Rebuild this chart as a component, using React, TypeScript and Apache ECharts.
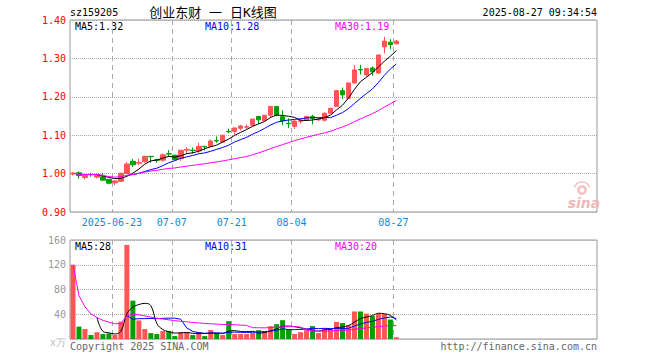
import React, { useEffect, useRef } from 'react';
import * as echarts from 'echarts';

// ---- data ----
const dates = [
  '2025-06-12', '2025-06-13', '2025-06-16', '2025-06-17', '2025-06-18', '2025-06-19', '2025-06-20',
  '2025-06-23', '2025-06-24', '2025-06-25', '2025-06-26', '2025-06-27', '2025-06-30',
  '2025-07-01', '2025-07-02', '2025-07-03', '2025-07-04', '2025-07-07', '2025-07-08', '2025-07-09',
  '2025-07-10', '2025-07-11', '2025-07-14', '2025-07-15', '2025-07-16', '2025-07-17', '2025-07-18',
  '2025-07-21', '2025-07-22', '2025-07-23', '2025-07-24', '2025-07-25', '2025-07-28', '2025-07-29',
  '2025-07-30', '2025-07-31', '2025-08-01', '2025-08-04', '2025-08-05', '2025-08-06', '2025-08-07',
  '2025-08-08', '2025-08-11', '2025-08-12', '2025-08-13', '2025-08-14', '2025-08-15', '2025-08-18',
  '2025-08-19', '2025-08-20', '2025-08-21', '2025-08-22', '2025-08-25', '2025-08-26', '2025-08-27',
];

const opens = [
  0.999, 1.002, 0.990, 0.998, 0.991, 0.992, 0.985, 0.976, 0.980, 1.000,
  1.032, 1.027, 1.031, 1.045, 1.036, 1.035, 1.052, 1.048, 1.039, 1.061,
  1.061, 1.059, 1.071, 1.071, 1.086, 1.082, 1.110, 1.110, 1.118, 1.121,
  1.126, 1.149, 1.138, 1.152, 1.175, 1.148, 1.131, 1.123, 1.136, 1.140,
  1.149, 1.140, 1.139, 1.157, 1.175, 1.216, 1.196, 1.236, 1.271, 1.257,
  1.275, 1.262, 1.330, 1.342, 1.338,
];
const closes = [
  1.001, 0.995, 0.997, 0.997, 0.998, 0.983, 0.975, 0.981, 1.001, 1.025,
  1.023, 1.029, 1.045, 1.044, 1.035, 1.049, 1.051, 1.036, 1.061, 1.063,
  1.060, 1.071, 1.070, 1.085, 1.085, 1.100, 1.109, 1.119, 1.124, 1.122,
  1.142, 1.140, 1.152, 1.175, 1.153, 1.137, 1.130, 1.137, 1.138, 1.149,
  1.144, 1.142, 1.157, 1.170, 1.216, 1.205, 1.236, 1.270, 1.270, 1.274,
  1.265, 1.309, 1.345, 1.336, 1.345,
];
const lows = [
  0.995, 0.987, 0.985, 0.992, 0.987, 0.981, 0.972, 0.970, 0.978, 0.999,
  1.017, 1.022, 1.028, 1.028, 1.028, 1.031, 1.043, 1.035, 1.033, 1.052,
  1.052, 1.054, 1.060, 1.069, 1.080, 1.080, 1.105, 1.102, 1.112, 1.116,
  1.123, 1.129, 1.137, 1.145, 1.149, 1.126, 1.119, 1.116, 1.130, 1.138,
  1.128, 1.137, 1.136, 1.156, 1.174, 1.194, 1.195, 1.235, 1.258, 1.253,
  1.255, 1.260, 1.313, 1.324, 1.336,
];
const highs = [
  1.004, 1.006, 0.998, 1.002, 1.000, 1.002, 0.986, 0.982, 1.002, 1.030,
  1.038, 1.039, 1.046, 1.045, 1.039, 1.052, 1.061, 1.049, 1.061, 1.069,
  1.068, 1.080, 1.071, 1.089, 1.097, 1.101, 1.117, 1.119, 1.127, 1.128,
  1.142, 1.149, 1.153, 1.175, 1.176, 1.165, 1.144, 1.138, 1.143, 1.150,
  1.153, 1.146, 1.160, 1.171, 1.218, 1.224, 1.236, 1.283, 1.283, 1.275,
  1.279, 1.309, 1.356, 1.350, 1.348,
];
// volume, unit: 10k (万)
const volumes = [
  120, 20, 16, 6.4, 11, 8, 9, 6.4, 28, 152,
  62, 30, 16, 9.6, 8, 12.8, 12.8, 4.8, 11, 11,
  6.4, 11, 4.8, 14.4, 9.6, 6.4, 28.8, 8, 8, 8,
  9.6, 14.4, 12.8, 20.8, 24, 30.4, 16, 8, 11, 14.4,
  20.8, 9.6, 17.6, 16, 27.6, 25.9, 22, 44.5, 44.5, 41,
  37, 41, 40.5, 31.5, 2.8,
];

const tickDates = ['2025-06-23', '2025-07-07', '2025-07-21', '2025-08-04', '2025-08-27'];
const slotCount = 88;
const priceMALabels = ['MA5:1.32', 'MA10:1.28', 'MA30:1.19'];
const volMALabels = ['MA5:28', 'MA10:31', 'MA30:20'];
const maPeriods = [5, 10, 30];
const maColors = ['#000000', '#0000ff', '#ff00ff'];
const codeText = 'sz159205';
const titleText = '创业东财 一 日K线图';
const timeText = '2025-08-27 09:34:54';
const copyrightText = 'Copyright 2025 SINA.COM';
const urlText = 'http://finance.sina.com.cn';
const volUnit = 'x万';

// ---- helpers ----
const MONO = '"DejaVu Sans Mono", "Liberation Mono", monospace';

function movingAverage(values: number[], n: number, partial: boolean) {
  return values.map((_, i) => {
    if (i < n - 1 && !partial) return null;
    const start = Math.max(0, i - n + 1);
    let s = 0;
    for (let k = start; k <= i; k++) s += values[k];
    return +(s / (i - start + 1)).toFixed(4);
  });
}

export default function App() {
  const ref = useRef<HTMLDivElement>(null);

  useEffect(() => {
    if (!ref.current) return;
    const chart = echarts.init(ref.current, null, { renderer: 'svg' });

    const slots = Array.from({ length: slotCount }, (_, i) => dates[i] || ' ' + i);
    const boundaryLabels = Array.from({ length: slotCount + 1 }, (_, i) => {
      const d = dates[i];
      if (!d || tickDates.indexOf(d) < 0) return '';
      return tickDates.indexOf(d) === 0 ? d : d.slice(5);
    });
    const showAt = (index: number) => boundaryLabels[index] !== '';

    const candleData = dates.map((_, i) => [opens[i], closes[i], lows[i], highs[i]]);
    const volData = volumes.map((v, i) => ({
      value: v,
      itemStyle: { color: closes[i] >= opens[i] ? '#ff5555' : '#00a000' },
    }));

    const priceMA = maPeriods.map((n) => movingAverage(closes, n, n === 30));
    const volMA = maPeriods.map((n) => movingAverage(volumes, n, n === 30));

    const gridLine = { color: '#aaaaaa', type: [5, 4] as any, width: 1 };

    const legendTexts: any[] = [];
    const legendX = [75, 205, 335];
    priceMALabels.forEach((t, i) =>
      legendTexts.push({
        type: 'text', x: legendX[i], y: 26,
        style: { text: t, fill: maColors[i], font: `10px ${MONO}`, textVerticalAlign: 'middle' },
      })
    );
    volMALabels.forEach((t, i) =>
      legendTexts.push({
        type: 'text', x: legendX[i], y: 246,
        style: { text: t, fill: maColors[i], font: `10px ${MONO}`, textVerticalAlign: 'middle' },
      })
    );

    const option: any = {
      animation: false,
      backgroundColor: '#ffffff',
      textStyle: { fontFamily: MONO },
      grid: [
        { left: 70, right: 63, top: 20, height: 192, show: true, borderColor: '#999999', borderWidth: 1, backgroundColor: 'transparent' },
        { left: 70, right: 63, top: 240, height: 99, show: true, borderColor: '#999999', borderWidth: 1, backgroundColor: 'transparent' },
      ],
      xAxis: [
        { type: 'category', gridIndex: 0, position: 'bottom', data: slots, boundaryGap: true, show: false },
        {
          type: 'category', gridIndex: 0, position: 'bottom', data: boundaryLabels, boundaryGap: false,
          axisLine: { show: false }, axisTick: { show: false },
          axisLabel: { interval: showAt, color: '#1188dd', fontSize: 10, margin: 5, fontFamily: MONO },
          splitLine: { show: true, interval: showAt, lineStyle: gridLine },
        },
        { type: 'category', gridIndex: 1, position: 'bottom', data: slots, boundaryGap: true, show: false },
        {
          type: 'category', gridIndex: 1, position: 'bottom', data: boundaryLabels, boundaryGap: false,
          axisLine: { show: false }, axisTick: { show: false }, axisLabel: { show: false },
          splitLine: { show: true, interval: showAt, lineStyle: gridLine },
        },
      ],
      yAxis: [
        {
          type: 'value', gridIndex: 0, min: 0.9, max: 1.4, interval: 0.1,
          axisLine: { show: false }, axisTick: { show: false },
          axisLabel: { color: '#ff0000', fontSize: 10, margin: 4, fontFamily: MONO, formatter: (v: number) => v.toFixed(2) },
          splitLine: { show: true, lineStyle: { color: '#aaaaaa', type: 'dotted' } },
        },
        {
          type: 'value', gridIndex: 1, min: 0, max: 160, interval: 40,
          axisLine: { show: false }, axisTick: { show: false },
          axisLabel: {
            color: '#999999', fontSize: 10, margin: 4, fontFamily: MONO,
            formatter: (v: number) => (v === 0 ? '{u|' + volUnit + '}' : String(v)),
            rich: { u: { color: '#bbbbbb', fontSize: 10, fontFamily: MONO, padding: [6, 0, 0, 0] } },
          },
          splitLine: { show: true, lineStyle: { color: '#aaaaaa', type: 'dotted' } },
        },
      ],
      series: [
        {
          type: 'candlestick', xAxisIndex: 0, yAxisIndex: 0, data: candleData, barWidth: 5,
          itemStyle: { color: '#ff5555', color0: '#00a000', borderColor: '#ff5555', borderColor0: '#00a000', borderWidth: 1 },
        },
        ...priceMA.map((d, i) => ({
          type: 'line', xAxisIndex: 0, yAxisIndex: 0, data: d, symbol: 'none',
          lineStyle: { color: maColors[i], width: 1 }, z: 3,
        })),
        { type: 'bar', xAxisIndex: 2, yAxisIndex: 1, data: volData, barWidth: 5 },
        ...volMA.map((d, i) => ({
          type: 'line', xAxisIndex: 2, yAxisIndex: 1, data: d, symbol: 'none', smooth: i === 0 ? 0.4 : false,
          lineStyle: { color: maColors[i], width: 1 }, z: 3,
        })),
      ],
      graphic: [
        { type: 'text', x: 70, y: 12, style: { text: codeText, fill: '#000', font: `10px ${MONO}`, textVerticalAlign: 'middle' } },
        { type: 'text', x: 213, y: 12, style: { text: titleText, fill: '#000', font: `13px "DejaVu Sans Mono", "Noto Sans CJK SC"`, textAlign: 'center', textVerticalAlign: 'middle' } },
        { type: 'text', x: 597, y: 12, style: { text: timeText, fill: '#000', font: `10px ${MONO}`, textAlign: 'right', textVerticalAlign: 'middle' } },
        ...legendTexts,
        { type: 'text', x: 70, y: 346, style: { text: copyrightText, fill: '#666', font: `10px ${MONO}`, textVerticalAlign: 'middle' } },
        { type: 'text', x: 597, y: 346, style: { text: urlText, fill: '#666', font: `10px ${MONO}`, textAlign: 'right', textVerticalAlign: 'middle' } },
        // sina watermark
        { type: 'ring', shape: { cx: 582, cy: 190, r: 5, r0: 2.2 }, style: { fill: '#f4c4c4' } },
        { type: 'arc', shape: { cx: 582, cy: 190, r: 8, startAngle: Math.PI * 1.1, endAngle: Math.PI * 1.9 }, style: { stroke: '#f4c4c4', lineWidth: 1.5, fill: 'none' } },
        { type: 'text', x: 584, y: 203, style: { text: 'sina', fill: '#efb8b8', font: `italic bold 14px "DejaVu Sans"`, textAlign: 'center', textVerticalAlign: 'middle' } },
      ],
    };

    chart.setOption(option);
    return () => chart.dispose();
  }, []);

  return (
    <div
      ref={ref}
      style={{ position: 'fixed', left: 0, top: 0, width: 660, height: 360, background: '#fff' }}
    />
  );
}
